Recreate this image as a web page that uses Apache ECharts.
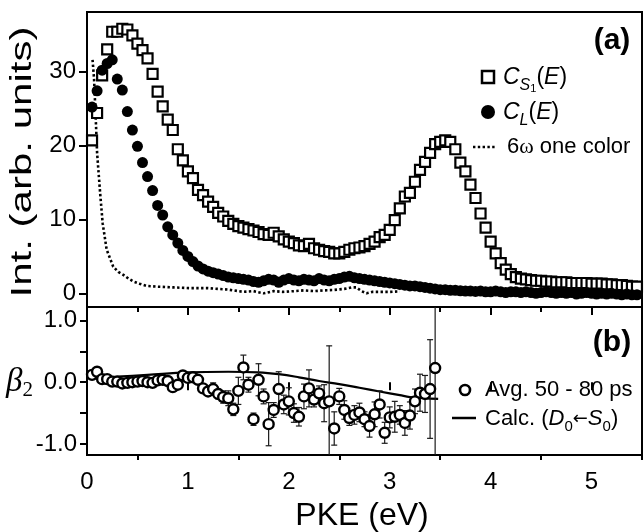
<!DOCTYPE html>
<html><head><meta charset="utf-8">
<script src="https://cdn.jsdelivr.net/npm/echarts@6/dist/echarts.min.js"></script>
<style>html,body{margin:0;padding:0;background:#fff}#c{width:644px;height:532px}</style>
</head><body><div id="c"></div>
<script>
// ---- Panel (a) data ----
const energyA = [0.05,0.10,0.15,0.20,0.25,0.30,0.35,0.40,0.45,0.50,0.55,0.60,0.65,0.70,0.75,0.80,0.85,0.90,0.95,1.00,
1.05,1.10,1.15,1.20,1.25,1.30,1.35,1.40,1.45,1.50,1.55,1.60,1.65,1.70,1.75,1.80,1.85,1.90,1.95,2.00,
2.05,2.10,2.15,2.20,2.25,2.30,2.35,2.40,2.45,2.50,2.55,2.60,2.65,2.70,2.75,2.80,2.85,2.90,2.95,3.00,
3.05,3.10,3.15,3.20,3.25,3.30,3.35,3.40,3.45,3.50,3.55,3.60,3.65,3.70,3.75,3.80,3.85,3.90,3.95,4.00,
4.05,4.10,4.15,4.20,4.25,4.30,4.35,4.40,4.45,4.50,4.55,4.60,4.65,4.70,4.75,4.80,4.85,4.90,4.95,5.00,
5.05,5.10,5.15,5.20,5.25,5.30,5.35,5.40,5.45];
const cS1 = [20.7,24.4,29.5,33.0,35.4,35.4,35.8,35.7,34.9,33.8,32.9,31.8,29.7,27.3,25.3,23.5,22.1,19.5,18.0,16.5,
15.6,14.0,13.3,12.4,11.7,10.9,10.4,9.8,9.4,9.1,8.9,8.7,8.5,8.3,8.0,7.9,8.2,7.7,7.3,7.0,
6.8,6.5,6.4,6.7,6.1,5.9,5.7,5.6,5.4,5.4,5.6,5.9,6.1,6.2,6.4,6.7,7.0,7.6,7.9,8.6,
9.9,11.5,13.1,13.6,15.1,16.7,17.8,19.0,20.2,20.5,20.7,20.5,19.5,17.7,16.5,14.7,12.9,10.8,8.9,7.0,
5.4,4.1,3.2,2.6,2.2,2.0,1.9,1.8,1.7,1.7,1.6,1.6,1.5,1.5,1.5,1.4,1.4,1.4,1.4,1.3,
1.3,1.3,1.2,1.2,1.1,1.1,1.0,0.9,0.9];
const cL = [25.2,27.4,30.2,31.1,31.6,29.0,27.5,24.6,22.1,19.9,17.7,15.8,13.9,11.9,10.6,9.0,7.9,6.8,5.8,5.0,
4.3,3.7,3.3,3.0,2.8,2.6,2.4,2.2,2.1,2.0,1.9,1.8,1.6,1.5,1.7,1.9,1.8,1.5,1.8,2.0,
1.8,1.7,1.9,1.8,1.7,2.0,1.8,1.7,1.9,2.0,2.2,2.3,2.1,2.0,1.9,1.8,1.7,1.6,1.5,1.4,
1.3,1.2,1.1,1.0,1.0,0.9,0.8,0.7,0.6,0.5,0.5,0.4,0.4,0.35,0.3,0.3,0.25,0.3,0.2,0.2,
0.3,0.2,0.1,0.2,0.2,0.1,0.2,0.1,0.0,0.1,0.2,0.1,0.0,0.1,0.0,0.1,-0.1,0.0,0.1,0.0,
-0.1,0.0,-0.1,0.0,-0.1,-0.2,-0.1,-0.2,-0.2];
const oneColorE = [0.055,0.07,0.09,0.10,0.13,0.155,0.195,0.26,0.31,0.36,0.41,0.46,0.52,0.59,0.70,0.86,1.02,1.10,1.20,1.30,
1.40,1.50,1.55,1.65,1.75,1.85,1.94,2.05,2.15,2.25,2.35,2.44,2.55,2.62,2.67,2.72,2.77,2.83,2.90,3.00,3.10];
const oneColorV = [31.6,29.0,22.5,19.0,13.6,9.5,5.9,3.6,2.9,2.5,2.0,1.6,1.3,1.0,0.9,0.8,0.7,0.7,0.7,0.6,
0.5,0.3,0.2,0.3,0.0,0.3,0.2,0.3,0.4,0.3,0.4,0.45,0.6,0.8,0.8,0.3,0.0,0.2,0.2,0.2,0.25];

// ---- Panel (b) data ----
const energyB = [0.05,0.10,0.15,0.20,0.25,0.30,0.35,0.40,0.45,0.50,0.55,0.60,0.65,0.70,0.75,0.80,0.85,0.90,0.95,1.00,
1.05,1.10,1.15,1.20,1.25,1.30,1.35,1.40,1.45,1.50,1.55,1.60,1.65,1.70,1.75,1.80,1.85,1.90,1.95,2.00,
2.05,2.10,2.15,2.20,2.25,2.30,2.35,2.40,2.45,2.50,2.55,2.60,2.65,2.70,2.75,2.80,2.85,2.90,2.95,3.00,
3.05,3.10,3.15,3.20,3.25,3.30,3.35,3.40,3.45];
const beta2 = [0.12,0.17,0.05,0.05,0.01,0.01,-0.02,-0.01,0.00,0.01,0.02,0.00,-0.01,0.03,0.04,0.02,-0.08,-0.04,0.11,0.07,
0.08,0.04,-0.10,-0.15,-0.11,-0.19,-0.24,-0.26,-0.44,-0.14,0.24,-0.04,-0.60,0.04,-0.23,-0.68,-0.45,-0.11,-0.36,-0.31,
-0.50,-0.56,-0.23,-0.10,-0.28,-0.18,-0.34,-0.31,-0.75,-0.23,-0.45,-0.58,-0.53,-0.49,-0.60,-0.71,-0.52,-0.36,-0.82,-0.57,
-0.56,-0.53,-0.66,-0.54,-0.31,-0.17,-0.19,-0.11,0.23];
const beta2Err = [0,0,0,0,0,0,0,0,0,0,0,0,0,0,0,0,0,0,0,0,
0,0,0.05,0.06,0.10,0.08,0.10,0.12,0.10,0.22,0.20,0.12,0.10,0.26,0.12,0.35,0.12,0.28,0.15,0.22,
0.15,0.15,0.20,0.30,0.12,0.12,0.30,0.90,0.27,0.13,0.15,0.12,0.15,0.15,0.12,0.18,0.20,0.22,0.17,0.17,
0.25,0.15,0.20,0.22,0.20,0.30,0.30,0.80,2.00];
const calcE = [0.05,0.30,0.60,1.00,1.40,1.70,1.90,2.10,2.30,2.50,2.70,2.90,3.10,3.20,3.48];
const calcV = [0.06,0.09,0.12,0.16,0.17,0.16,0.13,0.08,0.02,-0.03,-0.09,-0.15,-0.21,-0.24,-0.27];

const xTicksMajor = [0,1,2,3,4,5];
const xTicksMinor = [0.5,1.5,2.5,3.5,4.5,5.5];
const yTicksA = [0,10,20,30];
const yLabelsB = [-1,0,1];
const yTicksB = [-1,-0.5,0,0.5,1];

const zip = (a,b) => a.map((v,i)=>[v,b[i]]);
const SANS = 'Liberation Sans';
const lab = {color:'#000', fontFamily:SANS, fontSize:24};
const tickStyle = {color:'#000', width:2};

const chart = echarts.init(document.getElementById('c'), null, {renderer:'canvas'});
const G0 = {left:87, top:12, width:555, height:295, show:true, borderColor:'#000', borderWidth:2, backgroundColor:'transparent'};
const G1 = {left:87, top:307, width:555, height:148, show:true, borderColor:'#000', borderWidth:2, backgroundColor:'transparent'};

function xax(grid, pos, ticks, len, inside, labels){
  return {type:'value', gridIndex:grid, position:pos, min:0, max:5.5,
    axisLine:{show:false}, splitLine:{show:false},
    axisTick:{show:!!ticks, customValues:ticks||[], length:len, inside:inside, lineStyle:tickStyle},
    axisLabel:labels ? Object.assign({show:true, customValues:labels, margin:15}, lab) : {show:false}};
}

const option = {
  animation:false,
  grid:[G0,G1],
  xAxis:[
    xax(0,'bottom',null,0,false,null),
    xax(1,'bottom',xTicksMajor,8,false,xTicksMajor),
    xax(1,'bottom',xTicksMinor,5,false,null),
    xax(1,'top',xTicksMajor.slice(1),8,true,null),
    xax(1,'top',xTicksMinor,5,true,null)
  ],
  yAxis:[
    {type:'value', gridIndex:0, min:-1.85, max:38.07, axisLine:{show:false}, splitLine:{show:false},
     axisTick:{show:true, customValues:yTicksA, length:8, lineStyle:tickStyle},
     axisLabel:Object.assign({customValues:yTicksA, margin:11}, lab)},
    {type:'value', gridIndex:1, min:-1.18, max:1.22, axisLine:{show:false}, splitLine:{show:false},
     axisTick:{show:true, customValues:yTicksB, length:7, lineStyle:tickStyle},
     axisLabel:Object.assign({customValues:yLabelsB, margin:10, formatter:v=>Number(v).toFixed(1)}, lab)}
  ],
  series:[
    {type:'line', xAxisIndex:0, yAxisIndex:0, data:zip(oneColorE,oneColorV), showSymbol:false, symbol:'none',
     lineStyle:{color:'#000', width:2.6, type:[2.4,2.4]}, z:2},
    {type:'scatter', xAxisIndex:0, yAxisIndex:0, data:zip(energyA,cS1), symbol:'rect', symbolSize:10,
     itemStyle:{color:'#fff', borderColor:'#000', borderWidth:2.2, opacity:1}, z:3},
    {type:'scatter', xAxisIndex:0, yAxisIndex:0, data:zip(energyA,cL), symbol:'circle', symbolSize:11,
     itemStyle:{color:'#000', opacity:1}, z:4},
    {type:'line', xAxisIndex:1, yAxisIndex:1, data:zip(calcE,calcV), showSymbol:false, symbol:'none', smooth:0.4,
     lineStyle:{color:'#000', width:2.2}, z:2},
    {type:'custom', xAxisIndex:1, yAxisIndex:1, clip:true, z:3,
     data:energyB.map((e,i)=>[e,beta2[i],beta2Err[i]]),
     renderItem:(params,api)=>{
       const e = api.value(0), v = api.value(1), er = api.value(2);
       if(!er) return null;
       const top = api.coord([e, v+er]), bot = api.coord([e, v-er]);
       const cw = 3;
       const st = {stroke:'#1a1a1a', lineWidth:1.2};
       return {type:'group', children:[
         {type:'line', shape:{x1:top[0],y1:top[1],x2:bot[0],y2:bot[1]}, style:st},
         {type:'line', shape:{x1:top[0]-cw,y1:top[1],x2:top[0]+cw,y2:top[1]}, style:st},
         {type:'line', shape:{x1:bot[0]-cw,y1:bot[1],x2:bot[0]+cw,y2:bot[1]}, style:st}
       ]};
     }},
    {type:'scatter', xAxisIndex:1, yAxisIndex:1, data:zip(energyB,beta2), symbol:'circle', symbolSize:10,
     itemStyle:{color:'#fff', borderColor:'#000', borderWidth:2.4, opacity:1}, z:4}
  ],
  graphic:[
    {type:'text', x:23, y:162, rotation:Math.PI/2, scaleX:1.45, style:{text:'Int. (arb. units)', x:0, y:0, align:'center', verticalAlign:'middle', font:'29px "Liberation Sans"', fill:'#000'}},
    {type:'text', x:362, y:516, style:{text:'PKE (eV)', align:'center', verticalAlign:'middle', font:'32px "Liberation Sans"', fill:'#000'}},
    {type:'text', x:6, y:382, style:{text:'{b|β}{s|2}', align:'left', verticalAlign:'middle',
      rich:{b:{fontFamily:'Liberation Serif', fontStyle:'italic', fontSize:33, lineHeight:38, fill:'#000', color:'#000'},
            s:{fontFamily:'Liberation Serif', fontSize:21, lineHeight:21, verticalAlign:'bottom', fill:'#000', color:'#000'}}}},
    {type:'text', x:612, y:41, style:{text:'(a)', align:'center', verticalAlign:'middle', font:'bold 30px "Liberation Sans"', fill:'#000'}},
    {type:'text', x:612, y:343, style:{text:'(b)', align:'center', verticalAlign:'middle', font:'bold 30px "Liberation Sans"', fill:'#000'}},
    // legend (a)
    {type:'rect', shape:{x:482, y:71, width:12, height:12}, style:{fill:'#fff', stroke:'#000', lineWidth:2.5}},
    {type:'text', x:503, y:78, style:{text:'{i|C}{s|S}{ss|1}{n|(}{i|E}{n|)}', align:'left', verticalAlign:'middle',
      rich:{i:{fontFamily:SANS, fontStyle:'italic', fontSize:23, lineHeight:32},
            n:{fontFamily:SANS, fontSize:23, lineHeight:32},
            s:{fontFamily:SANS, fontStyle:'italic', fontSize:16, lineHeight:16, verticalAlign:'bottom'},
            ss:{fontFamily:SANS, fontSize:11, lineHeight:10, verticalAlign:'bottom'}}}},
    {type:'circle', shape:{cx:488, cy:112, r:7}, style:{fill:'#000'}},
    {type:'text', x:503, y:113, style:{text:'{i|C}{s|L}{n|(}{i|E}{n|)}', align:'left', verticalAlign:'middle',
      rich:{i:{fontFamily:SANS, fontStyle:'italic', fontSize:23, lineHeight:32},
            n:{fontFamily:SANS, fontSize:23, lineHeight:32},
            s:{fontFamily:SANS, fontStyle:'italic', fontSize:16, lineHeight:16, verticalAlign:'bottom'}}}},
    {type:'line', shape:{x1:473, y1:147, x2:497, y2:147}, style:{stroke:'#000', lineWidth:2.6, lineDash:[2.4,2.4]}},
    {type:'text', x:507, y:147, style:{text:'{n|6}{w|ω}{n| one color}', align:'left', verticalAlign:'middle',
      rich:{n:{fontFamily:SANS, fontSize:22, lineHeight:28}, w:{fontFamily:'Liberation Serif', fontSize:22, lineHeight:28}}}},
    // legend (b)
    {type:'circle', shape:{cx:465, cy:390, r:5}, style:{fill:'#fff', stroke:'#000', lineWidth:2.6}},
    {type:'text', x:485, y:390, style:{text:'Avg. 50 - 80 ps', align:'left', verticalAlign:'middle', font:'22px "Liberation Sans"', fill:'#000'}},
    {type:'line', shape:{x1:452, y1:418, x2:476, y2:418}, style:{stroke:'#000', lineWidth:2.5}},
    {type:'text', x:485, y:419, style:{text:'{n|Calc. (}{i|D}{s|0}{a|←}{i|S}{s|0}{n|)}', align:'left', verticalAlign:'middle',
      rich:{i:{fontFamily:SANS, fontStyle:'italic', fontSize:22, lineHeight:30},
            n:{fontFamily:SANS, fontSize:22, lineHeight:30},
            a:{fontFamily:'DejaVu Sans', fontSize:18, lineHeight:30},
            s:{fontFamily:SANS, fontSize:15, lineHeight:15, verticalAlign:'bottom'}}}}
  ]
};
chart.setOption(option);
</script></body></html>
